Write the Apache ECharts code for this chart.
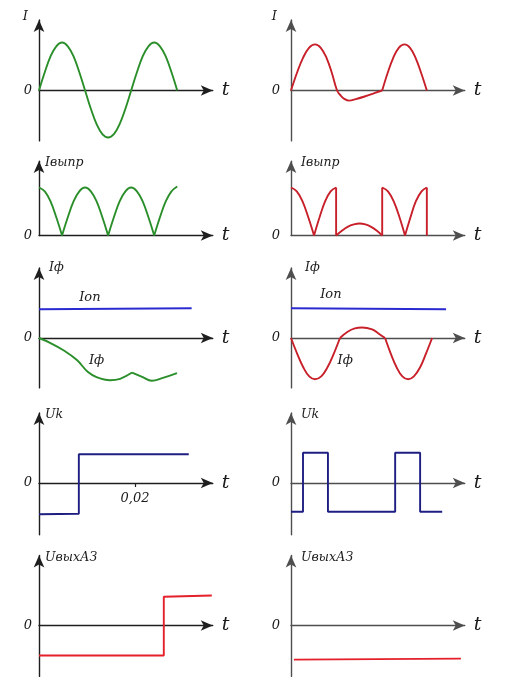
<!DOCTYPE html>
<html><head><meta charset="utf-8">
<script src="https://cdn.jsdelivr.net/npm/echarts@6/dist/echarts.min.js"></script>
<style>html,body{margin:0;padding:0;background:#fff}#c{width:516px;height:688px}</style>
</head><body><div id="c"></div>
<script>
// time t in ms, currents / voltages in relative units
// Row 1: supply current I
const iSupplyL = [[0,0],[1.2,0.38],[2.4,0.71],[3.6,0.92],[4.8,1],[6,0.92],[7.2,0.71],[8.4,0.38],[9.6,0],[10.8,-0.38],[12,-0.7],[13.2,-0.91],[14.4,-0.98],[15.6,-0.91],[16.8,-0.7],[18,-0.38],[19.2,0],[20.4,0.38],[21.6,0.71],[22.8,0.92],[24,1],[25.2,0.92],[26.4,0.71],[27.6,0.38],[28.8,0]];
const iSupplyR1 = [[0,0],[1.25,0.37],[2.5,0.68],[3.75,0.89],[5,0.96],[6.2,0.89],[7.4,0.68],[8.5,0.37],[9.6,0],[10.4,-0.11],[11.2,-0.18],[12.1,-0.21],[13.5,-0.18],[15.5,-0.12],[17.5,-0.05],[19,0]];
const iSupplyR2 = [[19,0],[20.15,0.37],[21.3,0.68],[22.45,0.89],[23.65,0.96],[24.8,0.89],[25.95,0.68],[27.1,0.37],[28.3,0]];
// Row 2: rectified current Iвыпр
const iRectL1 = [[0,1],[1.2,0.92],[2.4,0.71],[3.6,0.38],[4.8,0]];
const iRectL2 = [[4.8,0],[6,0.38],[7.2,0.71],[8.4,0.92],[9.6,1],[10.8,0.92],[12,0.71],[13.2,0.38],[14.4,0]];
const iRectL3 = [[14.4,0],[15.6,0.38],[16.8,0.71],[18,0.92],[19.2,1],[20.4,0.92],[21.6,0.71],[22.8,0.38],[24,0]];
const iRectL4 = [[24,0],[25.2,0.38],[26.4,0.71],[27.6,0.92],[28.8,1.02]];
const iRectR1 = [[0,1],[1.2,0.92],[2.4,0.71],[3.6,0.38],[4.8,0]];
const iRectR2 = [[4.8,0],[5.95,0.38],[7.1,0.71],[8.25,0.92],[9.4,1]];
const iRectR3 = [[9.4,0],[10.6,0.1],[11.8,0.18],[13.1,0.23],[14.3,0.25],[15.5,0.23],[16.7,0.18],[17.9,0.1],[19,0]];
const iRectR4 = [[19,1],[20.2,0.92],[21.4,0.71],[22.6,0.38],[23.75,0]];
const iRectR5 = [[23.75,0],[24.9,0.38],[26,0.71],[27.2,0.92],[28.3,1]];
const iRectRJ1 = [[9.4,1],[9.4,0]];
const iRectRJ2 = [[19,0],[19,1]];
const iRectRJ3 = [[28.3,1],[28.3,0]];
// Row 3: pickup current Ion and filter current Iф
const iOnL = [[0,0.6],[31.8,0.62]];
const iFL1 = [[0,0],[2.3,-0.1],[5,-0.25],[7.9,-0.46],[10.2,-0.71],[12.1,-0.82],[14.8,-0.88],[16.9,-0.85],[19.4,-0.72]];
const iFL2 = [[19.4,-0.72],[21.5,-0.81],[23.5,-0.89],[25.8,-0.83],[28.75,-0.73]];
const iOnR = [[0,0.62],[32.3,0.6]];
const iFR1 = [[0,0],[1.3,-0.33],[2.55,-0.61],[3.8,-0.8],[5,-0.86],[6.3,-0.8],[7.6,-0.61],[8.9,-0.33],[10.2,0]];
const iFR2 = [[10.2,0],[11.8,0.13],[13.3,0.2],[14.8,0.22],[16.9,0.18],[18.3,0.09],[19.6,0]];
const iFR3 = [[19.6,0],[20.8,-0.33],[22,-0.61],[23.2,-0.8],[24.4,-0.86],[25.6,-0.8],[26.9,-0.61],[28.1,-0.33],[29.4,0]];
// Row 4: Uk
const ukL = [[0,-0.65],[8.3,-0.64],[8.3,0.6],[31.2,0.6]];
const ukR = [[0,-0.6],[2.5,-0.6],[2.5,0.63],[7.7,0.63],[7.7,-0.6],[21.7,-0.6],[21.7,0.63],[26.9,0.63],[26.9,-0.6],[31.5,-0.6]];
// Row 5: UвыхАЗ
const uOutL = [[0,-0.625],[26,-0.625],[26,0.6],[36,0.625]];
const uOutR = [[0.6,-0.71],[35.4,-0.69]];
// tick labels
const tickT = 20;
const tickTLabel = '0,02';
const zeroLabel = '0';
const xName = 't';
const yNames = ['I', 'Iвыпр', 'Iф', 'Uk', 'UвыхАЗ'];
const labelIon = 'Ion';
const labelIf = 'Iф';

const GREEN = '#2a8f2a', RED = '#c8202a', BLUE = '#2a2ad0', NAVY = '#1e1e82', RED2 = '#e4202a';
const FONT = 'DejaVu Serif';
const PXV = 48, PXT = 4.8, TMAX = 36.2;
const rows = [
  {zero: 90.5, max: 1.47, min: -1.05},
  {zero: 235.5, max: 1.55, min: 0},
  {zero: 338, max: 1.46, min: -1.04},
  {zero: 483, max: 1.46, min: -1.08},
  {zero: 625.5, max: 1.46, min: -1.06}
];
const cols = [
  {left: 39, axis: '#1e1e1e', zeroMargin: 7, namePad: 6, iPad: 11},
  {left: 291, axis: '#4e4e4e', zeroMargin: 11, namePad: 10, iPad: 14}
];

const panels = [
  {row:0, col:0, segs:[{d:iSupplyL, c:GREEN, s:true}]},
  {row:0, col:1, segs:[{d:iSupplyR1, c:RED, s:true},{d:iSupplyR2, c:RED, s:true}]},
  {row:1, col:0, segs:[{d:iRectL1,c:GREEN,s:true},{d:iRectL2,c:GREEN,s:true},{d:iRectL3,c:GREEN,s:true},{d:iRectL4,c:GREEN,s:true}]},
  {row:1, col:1, segs:[{d:iRectR1,c:RED,s:true},{d:iRectR2,c:RED,s:true},{d:iRectR3,c:RED,s:true},{d:iRectR4,c:RED,s:true},{d:iRectR5,c:RED,s:true},{d:iRectRJ1,c:RED,s:false},{d:iRectRJ2,c:RED,s:false},{d:iRectRJ3,c:RED,s:false}]},
  {row:2, col:0, segs:[{d:iOnL,c:BLUE,s:false,lab:{t:labelIon,at:[10.6,0.85]}},{d:iFL1,c:GREEN,s:true,lab:{t:labelIf,at:[12,-0.48]}},{d:iFL2,c:GREEN,s:true}]},
  {row:2, col:1, segs:[{d:iOnR,c:BLUE,s:false,lab:{t:labelIon,at:[8.3,0.9]}},{d:iFR1,c:RED,s:true,lab:{t:labelIf,at:[11.3,-0.48]}},{d:iFR2,c:RED,s:true},{d:iFR3,c:RED,s:true}]},
  {row:3, col:0, tick:true, segs:[{d:ukL,c:NAVY,s:false}]},
  {row:3, col:1, segs:[{d:ukR,c:NAVY,s:false}]},
  {row:4, col:0, segs:[{d:uOutL,c:RED2,s:false}]},
  {row:4, col:1, segs:[{d:uOutR,c:RED2,s:false}]}
];

const txt = (size, extra) => Object.assign({fontFamily: FONT, fontStyle: 'italic', fontSize: size, color: '#1a1a1a'}, extra || {});
const grid = [], xAxis = [], yAxis = [], series = [];
panels.forEach((p, i) => {
  const r = rows[p.row], c = cols[p.col];
  grid.push({left: c.left, top: r.zero - r.max * PXV, width: TMAX * PXT, height: (r.max - r.min) * PXV});
  const first = p.row === 0;
  xAxis.push({
    type: 'value', gridIndex: i, min: 0, max: TMAX,
    axisLine: {onZero: true, lineStyle: {color: c.axis, width: 1.4}, symbol: ['none', 'arrow'], symbolSize: [8, 12]},
    axisTick: p.tick ? {show: true, customValues: [tickT], length: 4, lineStyle: {color: c.axis, width: 1.2}} : {show: false},
    // tick label sits just under the zero line (label is laid out from the grid bottom)
    axisLabel: p.tick ? {show: true, customValues: [tickT], formatter: () => tickTLabel, margin: 9 + r.min * PXV, ...txt(13)} : {show: false},
    splitLine: {show: false},
    name: xName, nameLocation: 'end', nameGap: 9,
    nameTextStyle: txt(19, {align: 'left', verticalAlign: 'middle'})
  });
  yAxis.push({
    type: 'value', gridIndex: i, min: r.min, max: r.max,
    axisLine: {onZero: false, lineStyle: {color: c.axis, width: 1.4}, symbol: ['none', 'arrow'], symbolSize: [8, 12]},
    axisTick: {show: false},
    axisLabel: {show: true, customValues: [0], formatter: () => zeroLabel, margin: c.zeroMargin, ...txt(13)},
    splitLine: {show: false},
    name: yNames[p.row], nameLocation: 'end',
    nameGap: first ? 3 : (p.row === 2 ? 0 : -2),
    nameTextStyle: first
      ? txt(13, {align: 'right', verticalAlign: 'middle', padding: [0, c.iPad, 0, 0]})
      : txt(12.5, {align: 'left', verticalAlign: 'middle', padding: [0, 0, 0, c.namePad + (p.row === 2 ? 4 : 0)]})
  });
  p.segs.forEach(sg => {
    const s = {
      type: 'line', xAxisIndex: i, yAxisIndex: i, data: sg.d, smooth: sg.s ? 0.4 : false,
      symbol: 'none', showSymbol: false, clip: false,
      lineStyle: {color: sg.c, width: 1.9}, z: 3, silent: true
    };
    if (sg.lab) {
      s.markPoint = {symbol: 'circle', symbolSize: 0, silent: true,
        label: {show: true, position: 'inside', formatter: sg.lab.t, ...txt(13)},
        data: [{coord: sg.lab.at}]};
    }
    series.push(s);
  });
});

const chart = echarts.init(document.getElementById('c'), null, {renderer: 'canvas'});
chart.setOption({backgroundColor: '#fff', animation: false, grid, xAxis, yAxis, series});
</script></body></html>
